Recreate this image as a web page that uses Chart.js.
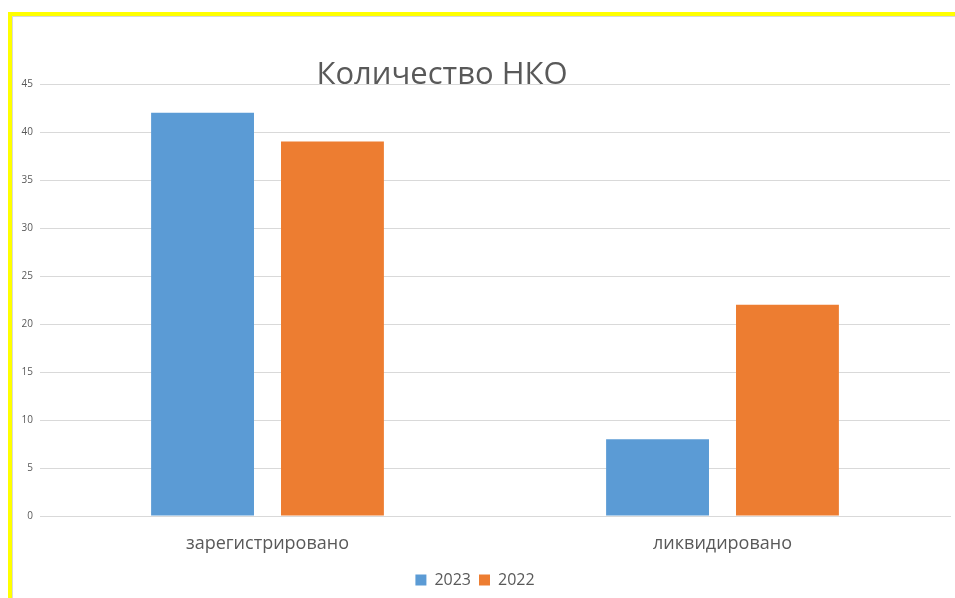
<!DOCTYPE html>
<html lang="ru">
<head>
    <meta charset="UTF-8">
    <title>Количество НКО</title>
    <script src="https://cdn.jsdelivr.net/npm/chart.js"></script>
    <style>
        body {
            margin: 0;
            background: #fff;
            font-family: "Open Sans", Arial, sans-serif;
        }

        #frame {
            position: absolute;
            left: 8px;
            top: 12px;
            width: 947px;
            height: 586px;
            border-top: 4px solid #ffff00;
            border-left: 4px solid #ffff00;
            box-sizing: border-box;
        }

        #inner {
            position: absolute;
            left: 0;
            top: 0;
            right: 0;
            bottom: 0;
            border-top: 1px solid #d9d9d9;
            border-left: 1px solid #d9d9d9;
        }

        #wrap {
            position: absolute;
            left: 0;
            top: 0;
            width: 955px;
            height: 598px;
        }
    </style>
</head>
<body>
    <div id="frame"><div id="inner"></div></div>
    <div id="wrap"><canvas id="mycanvas"></canvas></div>

    <script>
        // chart data
        var categories = ['зарегистрировано', 'ликвидировано'];
        var series2023 = [42, 8];
        var series2022 = [39, 22];
        var seriesNames = ['2023', '2022'];
        var chartTitle = 'Количество НКО';

        // title sits over the top gridline, a bit left of centre
        var titlePlugin = {
            id: 'titleText',
            afterDraw: function (chart) {
                var ctx = chart.ctx;
                ctx.save();
                ctx.font = '31px "Open Sans", Arial, sans-serif';
                ctx.fillStyle = '#595959';
                ctx.textAlign = 'center';
                ctx.textBaseline = 'alphabetic';
                ctx.fillText(chartTitle, 442, 84);
                ctx.restore();
            }
        };

        var ctx = document.getElementById('mycanvas').getContext('2d');
        new Chart(ctx, {
            type: 'bar',
            data: {
                labels: categories,
                datasets: [{
                    label: seriesNames[0],
                    data: series2023,
                    backgroundColor: '#5b9bd5'
                }, {
                    label: seriesNames[1],
                    data: series2022,
                    backgroundColor: '#ed7d31'
                }]
            },
            plugins: [titlePlugin],
            options: {
                responsive: true,
                maintainAspectRatio: false,
                animation: false,
                categoryPercentage: 0.571,
                barPercentage: 0.792,
                layout: {
                    padding: { left: 0, right: 5, top: 84, bottom: 0 }
                },
                plugins: {
                    title: { display: false },
                    tooltip: { enabled: false },
                    legend: {
                        position: 'bottom',
                        labels: {
                            boxWidth: 11,
                            boxHeight: 11,
                            padding: 8,
                            color: '#595959',
                            font: { family: '"Open Sans", Arial, sans-serif', size: 16 }
                        }
                    }
                },
                scales: {
                    x: {
                        grid: { display: false, drawTicks: false },
                        border: { display: true, color: '#d9d9d9' },
                        ticks: {
                            color: '#595959',
                            padding: 17,
                            font: { family: '"Open Sans", Arial, sans-serif', size: 18 }
                        },
                        afterFit: function (scale) { scale.height = 48; }
                    },
                    y: {
                        min: 0,
                        max: 45,
                        grid: { color: '#d9d9d9', drawTicks: false },
                        border: { display: false },
                        ticks: {
                            stepSize: 5,
                            color: '#595959',
                            padding: 7,
                            font: { family: '"Open Sans", Arial, sans-serif', size: 10 }
                        },
                        afterFit: function (scale) { scale.width = 40; }
                    }
                }
            }
        });
    </script>
</body>
</html>
